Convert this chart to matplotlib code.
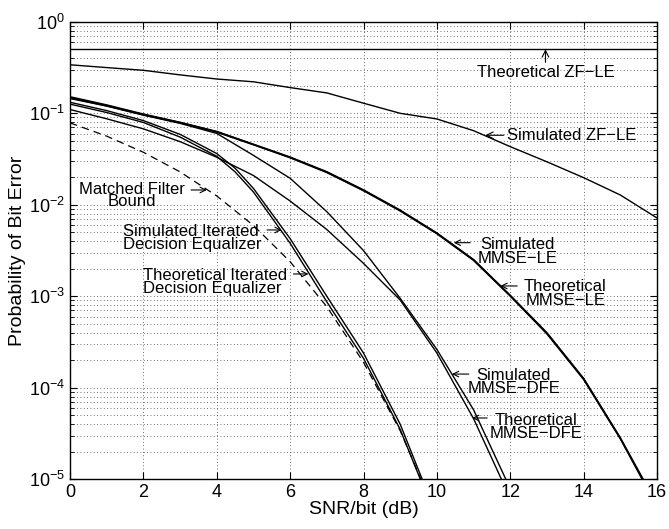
import matplotlib
matplotlib.use('Agg')
import matplotlib.pyplot as plt
from matplotlib.ticker import LogLocator, FixedLocator

plt.rcParams['font.family'] = ['Liberation Sans', 'DejaVu Sans']
plt.rcParams['mathtext.fontset'] = 'custom'
plt.rcParams['mathtext.rm'] = 'Liberation Sans'
plt.rcParams['mathtext.it'] = 'Liberation Sans:italic'
plt.rcParams['mathtext.bf'] = 'Liberation Sans:bold'

# ---------------- data ----------------
theo_zf_x = [0, 16]
theo_zf_y = [0.5, 0.5]

sim_zf_x = [0, 1, 2, 3, 4, 5, 6, 7, 8, 9, 10, 11, 12, 13, 14, 15, 16]
sim_zf_y = [0.339, 0.316, 0.295, 0.263, 0.237, 0.221, 0.191, 0.167, 0.129,
            0.100, 0.0867, 0.0646, 0.0432, 0.0295, 0.0198, 0.0128, 0.00718]

theo_le_x = [0, 1, 2, 3, 4, 5, 6, 7, 8, 9, 10, 11, 12, 13, 14, 15, 15.62, 16]
theo_le_y = [0.151, 0.123, 0.0977, 0.0794, 0.0631, 0.0457, 0.0331, 0.0229, 0.0145,
             0.00871, 0.0049, 0.00251, 0.00102, 3.98e-4, 1.26e-4, 2.82e-5, 1.0e-5, 5.0e-6]

sim_le_x = [0, 1, 2, 3, 4, 5, 6, 7, 8, 9, 10, 11, 12, 13, 14, 15, 15.6, 16]
sim_le_y = [0.148, 0.121, 0.0965, 0.0790, 0.0625, 0.0455, 0.0328, 0.0226, 0.0143,
            0.0086, 0.00485, 0.00248, 0.00101, 3.9e-4, 1.24e-4, 2.8e-5, 1.0e-5, 5.0e-6]

theo_dfe_x = [0, 1, 2, 3, 4, 5, 6, 7, 8, 9, 10, 11, 11.88, 12.2]
theo_dfe_y = [0.145, 0.120, 0.0955, 0.0776, 0.0603, 0.0347, 0.0195, 0.00841, 0.00316,
              9.5e-4, 2.63e-4, 5.75e-5, 1.0e-5, 5.0e-6]

sim_dfe_x = [0, 1, 2, 3, 4, 5, 6, 7, 8, 9, 10, 11, 11.76, 12.1]
sim_dfe_y = [0.110, 0.0871, 0.0676, 0.049, 0.0331, 0.0209, 0.011, 0.00537, 0.00229,
             9.1e-4, 2.4e-4, 4.6e-5, 1.0e-5, 5.0e-6]

sim_ide_x = [0, 1, 2, 3, 4, 4.5, 5, 6, 7, 8, 9, 9.55, 9.8]
sim_ide_y = [0.126, 0.102, 0.0794, 0.055, 0.0339, 0.0229, 0.0138, 0.0038, 8.7e-4,
             2.1e-4, 3.5e-5, 1.0e-5, 5.0e-6]

theo_ide_x = [0, 1, 2, 3, 4, 4.5, 5, 6, 7, 8, 9, 9.6, 9.85]
theo_ide_y = [0.132, 0.107, 0.0832, 0.0589, 0.0363, 0.0251, 0.0151, 0.00427, 1.0e-3,
              2.4e-4, 4.0e-5, 1.0e-5, 5.0e-6]

mfb_x = [0, 1, 2, 3, 4, 5, 6, 7, 8, 9, 10]
mfb_y = [0.0786, 0.0563, 0.0375, 0.0229, 0.0125, 0.00595, 0.00239, 7.7e-4, 1.9e-4,
         3.4e-5, 3.9e-6]

xticks = [0, 2, 4, 6, 8, 10, 12, 14, 16]

# ---------------- figure ----------------
fig = plt.figure(figsize=(6.69, 5.29), dpi=100)
ax = fig.add_axes([70/669, 1 - 479.3/529, (657 - 70)/669, (479.3 - 21.8)/529])

lw = 1.0
ax.semilogy(theo_zf_x, theo_zf_y, color='black', lw=lw)
ax.semilogy(sim_zf_x, sim_zf_y, color='black', lw=lw)
ax.semilogy(theo_le_x, theo_le_y, color='black', lw=1.3)
ax.semilogy(sim_le_x, sim_le_y, color='black', lw=1.3)
ax.semilogy(theo_dfe_x, theo_dfe_y, color='black', lw=lw)
ax.semilogy(sim_dfe_x, sim_dfe_y, color='black', lw=lw)
ax.semilogy(sim_ide_x, sim_ide_y, color='black', lw=lw)
ax.semilogy(theo_ide_x, theo_ide_y, color='black', lw=lw)
ax.semilogy(mfb_x, mfb_y, color='black', lw=0.9, linestyle=(0, (6, 4)))

ax.set_xlim(0, 16)
ax.set_ylim(1e-5, 1)
ax.xaxis.set_major_locator(FixedLocator(xticks))
ax.yaxis.set_major_locator(LogLocator(base=10, numticks=10))
ax.yaxis.set_minor_locator(LogLocator(base=10, subs=range(2, 10), numticks=10))

grid_style = dict(color='0.25', linestyle=(0, (1, 3)), linewidth=0.6)
ax.grid(True, which='major', axis='both', **grid_style)
ax.grid(True, which='minor', axis='y', **grid_style)

ax.tick_params(which='both', direction='in', top=True, right=True, labelsize=13)
ax.tick_params(which='major', length=5)
ax.tick_params(which='minor', length=3)
for s in ax.spines.values():
    s.set_linewidth(1.0)

ax.set_xlabel('SNR/bit (dB)', fontsize=14, labelpad=0)
ax.set_ylabel('Probability of Bit Error', fontsize=14, labelpad=2)

fs = 12
ls = 0.85
arrow = dict(arrowstyle='->', lw=0.8, color='black', shrinkA=0, shrinkB=0)

ax.annotate('Theoretical ZF\u2212LE', xy=(12.96, 10**-0.30), xytext=(12.96, 10**-0.555),
            ha='center', va='center', fontsize=fs, arrowprops=arrow)
ax.annotate('Simulated ZF\u2212LE', xy=(11.32, 10**-1.24), xytext=(11.9, 10**-1.24),
            ha='left', va='center', fontsize=fs, arrowprops=arrow)
ax.annotate('', xy=(3.73, 10**-1.838), xytext=(3.30, 10**-1.838), arrowprops=arrow)
ax.text(1.69, 10**-1.90, 'Matched Filter\nBound', ha='center', va='center',
        fontsize=fs, linespacing=0.8)
ax.annotate('', xy=(5.77, 10**-2.275), xytext=(5.37, 10**-2.275), arrowprops=arrow)
ax.text(1.45, 10**-2.36, 'Simulated Iterated\nDecision Equalizer', ha='left',
        va='center', fontsize=fs, linespacing=ls)
ax.annotate('', xy=(6.50, 10**-2.756), xytext=(6.09, 10**-2.756), arrowprops=arrow)
ax.text(1.98, 10**-2.84, 'Theoretical Iterated\nDecision Equalizer', ha='left',
        va='center', fontsize=fs, linespacing=ls)
ax.annotate('', xy=(10.46, 10**-2.414), xytext=(10.91, 10**-2.414), arrowprops=arrow)
ax.text(12.2, 10**-2.51, 'Simulated\nMMSE\u2212LE', ha='center', va='center',
        fontsize=fs, linespacing=ls)
ax.annotate('', xy=(11.73, 10**-2.887), xytext=(12.19, 10**-2.887), arrowprops=arrow)
ax.text(13.5, 10**-2.97, 'Theoretical\nMMSE\u2212LE', ha='center', va='center',
        fontsize=fs, linespacing=ls)
ax.annotate('', xy=(10.41, 10**-3.85), xytext=(10.87, 10**-3.85), arrowprops=arrow)
ax.text(12.1, 10**-3.94, 'Simulated\nMMSE\u2212DFE', ha='center', va='center',
        fontsize=fs, linespacing=ls)
ax.annotate('', xy=(10.96, 10**-4.33), xytext=(11.37, 10**-4.33), arrowprops=arrow)
ax.text(12.7, 10**-4.43, 'Theoretical\nMMSE\u2212DFE', ha='center', va='center',
        fontsize=fs, linespacing=ls)

fig.savefig('out.png', dpi=100)
